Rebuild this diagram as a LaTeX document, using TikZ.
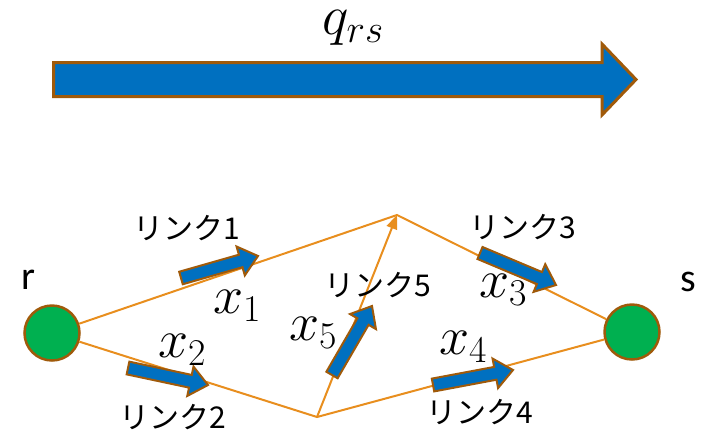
\RequirePackage{fix-cm}
\documentclass[tikz,border=0pt]{standalone}
\usepackage{fontspec}
\setmainfont{Carlito}
\newfontfamily\jpfont{Noto Sans CJK JP}
\usetikzlibrary{calc,arrows.meta}

\definecolor{flowblue}{RGB}{0,112,192}
\definecolor{edgebrown}{RGB}{160,90,10}
\definecolor{linkorange}{RGB}{232,142,30}
\definecolor{nodegreen}{RGB}{0,176,80}

% block arrow from tail #1 to tip #2
\newcommand{\flowarrow}[2]{%
  \coordinate (hb) at ($(#2)!18pt!(#1)$);
  \draw[flow] ($(#1)!6.5pt!90:(#2)$) -- ($(hb)!6.5pt!-90:(#1)$) -- ($(hb)!15pt!-90:(#1)$)
    -- (#2) -- ($(hb)!15pt!90:(#1)$) -- ($(hb)!6.5pt!90:(#1)$) -- ($(#1)!6.5pt!-90:(#2)$) -- cycle;}

\begin{document}
\begin{tikzpicture}[x=1pt,y=-1pt,
    link/.style={draw=linkorange, line width=2pt},
    flow/.style={fill=flowblue, draw=edgebrown, line width=2pt, line join=miter},
    endnode/.style={circle, fill=nodegreen, draw=edgebrown, line width=2.5pt,
      minimum size=55pt, inner sep=0pt},
    linklabel/.style={font=\jpfont\fontsize{30}{32}\selectfont, inner sep=0pt},
    flowlabel/.style={font=\fontsize{54}{58}\selectfont, inner sep=0pt},
    endlabel/.style={font=\fontsize{40}{44}\selectfont, inner sep=0pt}]
    \useasboundingbox (0,0) rectangle (703,437);

    % total demand
    \draw[flow, line width=3pt] (53.5,62.5) -- (602,62.5) -- (602,44) -- (636,79.5)
      -- (602,115) -- (602,96.5) -- (53.5,96.5) -- cycle;
    \node[flowlabel, anchor=base, font=\fontsize{56}{60}\selectfont] (qrs) at (353,34) {$q_{rs}$};

    % network
    \node[endnode] (r) at (52,333) {};
    \node[endnode] (s) at (632,332) {};
    \coordinate (top) at (397,215);
    \coordinate (bot) at (317,417);
    \node[endlabel] (rlab) at (28,280) {r};
    \node[endlabel] (slab) at (688,282) {s};

    \draw[link] (r) -- (top) -- (s);
    \draw[link] (r) -- (bot) -- (s);
    \draw[link, -{Triangle[length=14pt,width=11pt]}] (bot) -- (top);

    % link flows
    \coordinate (t1) at (181,278); \coordinate (h1) at (258,256);
    \coordinate (t2) at (128,368); \coordinate (h2) at (208,385);
    \coordinate (t3) at (480,253); \coordinate (h3) at (556,285);
    \coordinate (t4) at (433,385); \coordinate (h4) at (513,370);
    \coordinate (t5) at (332,375); \coordinate (h5) at (372,306);
    \flowarrow{t1}{h1}
    \flowarrow{t2}{h2}
    \flowarrow{t3}{h3}
    \flowarrow{t4}{h4}
    \flowarrow{t5}{h5}

    % labels
    \node[linklabel] (l1) at (187,228) {リンク1};
    \node[linklabel] (l2) at (173,417) {リンク2};
    \node[linklabel] (l3) at (523,227) {リンク3};
    \node[linklabel] (l4) at (480,412) {リンク4};
    \node[linklabel] (l5) at (378,285) {リンク5};
    \node[flowlabel] (x1) at (237,306) {$x_1$};
    \node[flowlabel] (x2) at (182,350) {$x_2$};
    \node[flowlabel] (x3) at (503,290) {$x_3$};
    \node[flowlabel] (x4) at (463,347) {$x_4$};
    \node[flowlabel] (x5) at (313,333) {$x_5$};
\end{tikzpicture}
\end{document}
